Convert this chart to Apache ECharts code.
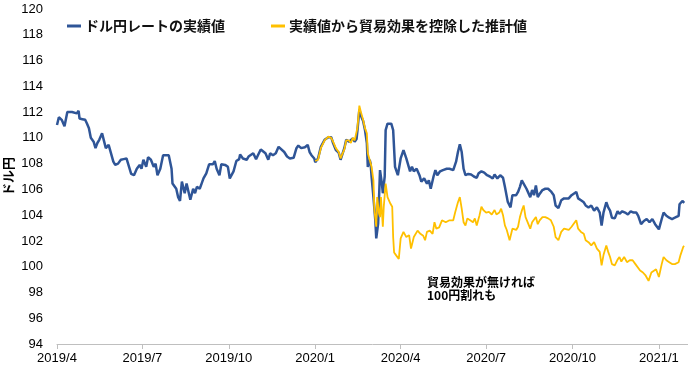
<!DOCTYPE html>
<html><head><meta charset="utf-8">
<script src="https://cdn.jsdelivr.net/npm/echarts@6/dist/echarts.min.js"></script>
<style>html,body{margin:0;padding:0;background:#fff}#c{width:688px;height:370px}</style>
</head><body><div id="c"></div>
<script>
// X-axis tick labels (quarter starts)
const xTickLabels = ['2019/4','2019/7','2019/10','2020/1','2020/4','2020/7','2020/10','2021/1'];
// Y-axis range
const yMin = 94, yMax = 120, yStep = 2;

// Series 1: ドル円レートの実績値
const actualDates = ['2019-04-01','2019-04-03','2019-04-06','2019-04-09','2019-04-12','2019-04-17','2019-04-22','2019-04-24','2019-04-25','2019-04-28','2019-05-01','2019-05-03','2019-05-05','2019-05-07','2019-05-10','2019-05-12','2019-05-14','2019-05-16','2019-05-19','2019-05-21','2019-05-23','2019-05-26','2019-05-28','2019-05-31','2019-06-02','2019-06-05','2019-06-08','2019-06-11','2019-06-14','2019-06-16','2019-06-19','2019-06-22','2019-06-25','2019-06-28','2019-06-30','2019-07-02','2019-07-05','2019-07-07','2019-07-10','2019-07-13','2019-07-15','2019-07-17','2019-07-20','2019-07-23','2019-07-29','2019-08-01','2019-08-02','2019-08-06','2019-08-08','2019-08-10','2019-08-12','2019-08-15','2019-08-17','2019-08-19','2019-08-21','2019-08-24','2019-08-26','2019-08-28','2019-08-31','2019-09-02','2019-09-04','2019-09-07','2019-09-10','2019-09-14','2019-09-16','2019-09-18','2019-09-21','2019-09-23','2019-09-27','2019-09-30','2019-10-02','2019-10-04','2019-10-06','2019-10-09','2019-10-12','2019-10-13','2019-10-16','2019-10-18','2019-10-20','2019-10-22','2019-10-24','2019-10-27','2019-10-30','2019-11-01','2019-11-04','2019-11-06','2019-11-09','2019-11-12','2019-11-14','2019-11-17','2019-11-20','2019-11-23','2019-11-25','2019-11-29','2019-12-02','2019-12-05','2019-12-09','2019-12-12','2019-12-14','2019-12-17','2019-12-21','2019-12-24','2019-12-26','2019-12-28','2019-12-31','2020-01-01',
'2020-01-04','2020-01-07','2020-01-11','2020-01-15','2020-01-18','2020-01-20','2020-01-23','2020-01-26','2020-01-28','2020-01-30','2020-02-01','2020-02-03','2020-02-06','2020-02-08','2020-02-10','2020-02-12','2020-02-14','2020-02-15','2020-02-17','2020-02-19','2020-02-21','2020-02-23','2020-02-25','2020-02-26','2020-02-28','2020-02-29','2020-03-01','2020-03-03','2020-03-05','2020-03-06','2020-03-08','2020-03-10','2020-03-12','2020-03-13','2020-03-15','2020-03-16','2020-03-18','2020-03-22','2020-03-24','2020-03-26','2020-03-29','2020-04-01','2020-04-04','2020-04-07','2020-04-09','2020-04-11','2020-04-13','2020-04-15','2020-04-18','2020-04-21','2020-04-23','2020-04-26','2020-04-29','2020-05-01','2020-05-03','2020-05-06','2020-05-08','2020-05-10','2020-05-13','2020-05-16','2020-05-20','2020-05-23','2020-05-25','2020-05-27','2020-05-30','2020-06-01','2020-06-03','2020-06-05','2020-06-07','2020-06-09','2020-06-12','2020-06-15','2020-06-18','2020-06-21','2020-06-23','2020-06-26','2020-06-29','2020-07-02','2020-07-05','2020-07-08','2020-07-10','2020-07-13','2020-07-16','2020-07-19','2020-07-21','2020-07-24','2020-07-27','2020-07-29','2020-07-31','2020-08-02','2020-08-04','2020-08-06','2020-08-08','2020-08-10','2020-08-13','2020-08-15','2020-08-17','2020-08-19','2020-08-21','2020-08-23','2020-08-25','2020-08-27','2020-08-30','2020-09-02','2020-09-05','2020-09-08','2020-09-11','2020-09-13','2020-09-16','2020-09-19','2020-09-22','2020-09-24','2020-09-27','2020-09-30','2020-10-02','2020-10-05','2020-10-07','2020-10-10','2020-10-13','2020-10-15','2020-10-18','2020-10-21','2020-10-24','2020-10-27','2020-10-30','2020-11-01','2020-11-03','2020-11-06','2020-11-08','2020-11-10','2020-11-12','2020-11-15','2020-11-18','2020-11-20','2020-11-23','2020-11-26','2020-11-29','2020-12-02','2020-12-05','2020-12-08','2020-12-10','2020-12-13','2020-12-16','2020-12-19','2020-12-22','2020-12-25','2020-12-28','2021-01-01','2021-01-04','2021-01-06','2021-01-09','2021-01-12','2021-01-15','2021-01-18','2021-01-20','2021-01-22','2021-01-23','2021-01-26','2021-01-28'];
const actualValues = [111.0,111.6,111.4,110.9,112.0,112.0,111.9,112.1,111.5,111.45,111.4,111.1,110.75,110.0,109.7,109.2,109.6,109.85,110.35,110.4,109.2,109.45,109.3,108.15,107.9,108.0,108.3,108.35,108.4,108.3,107.2,107.1,107.6,107.9,107.6,108.3,107.75,108.5,108.3,107.75,108.0,107.1,107.6,108.65,108.65,107.6,106.45,106.05,105.4,105.1,106.6,105.7,106.45,106.3,105.2,106.05,105.7,106.2,106.05,106.45,106.85,107.25,107.95,107.95,108.2,107.6,107.1,107.95,107.9,107.75,106.85,107.0,107.4,108.2,108.35,108.7,108.4,108.55,108.3,108.55,108.65,108.8,108.35,108.65,109.1,108.98,108.8,108.3,108.8,108.65,108.8,109.3,109.4,108.9,108.55,108.4,108.45,109.2,109.4,109.2,109.27,109.45,108.9,108.65,108.4,108.1,
108.4,109.3,109.85,110.05,110.05,109.6,109.05,108.85,108.3,108.4,109.2,109.85,109.7,109.7,109.95,109.7,109.9,110.6,112.2,111.65,111.3,110.6,109.6,107.75,108.3,108.0,107.0,105.4,103.6,102.2,103.35,107.5,106.45,105.7,107.0,110.6,111.1,111.1,110.6,107.75,107.1,108.4,109.05,108.4,107.9,107.4,107.75,107.4,107.6,107.1,106.6,106.85,106.45,106.7,106.05,107.0,107.5,107.1,107.4,107.5,107.6,107.6,107.75,107.5,108.15,108.9,109.5,108.9,107.6,107.1,107.2,107.15,107.0,106.9,107.25,107.4,107.3,107.1,107.0,106.85,107.15,106.85,107.1,106.9,106.2,105.05,104.6,105.55,105.65,105.55,105.8,106.2,106.7,106.85,106.05,106.2,105.4,105.95,105.55,106.3,105.4,105.65,105.95,106.05,106.05,105.85,105.55,104.75,104.55,105.15,105.3,105.4,105.3,105.55,105.4,105.8,105.3,105.15,105.0,104.75,104.6,104.75,104.35,104.6,104.2,103.2,104.2,105.0,104.6,104.35,103.8,103.75,104.3,104.1,104.3,104.2,104.05,104.3,104.2,104.2,103.95,103.3,103.55,103.7,103.45,103.7,103.3,102.9,103.7,104.2,103.95,103.8,103.7,103.8,103.7,103.95,104.85,105.1,104.95];

// Series 2: 実績値から貿易効果を控除した推計値
const estDates = ['2020-01-01','2020-01-04','2020-01-07','2020-01-11','2020-01-15','2020-01-18','2020-01-20','2020-01-23','2020-01-26','2020-01-28','2020-01-30','2020-02-01','2020-02-03','2020-02-06','2020-02-08','2020-02-10','2020-02-12','2020-02-14','2020-02-15','2020-02-17','2020-02-19','2020-02-21','2020-02-23','2020-02-25','2020-02-26','2020-02-28','2020-03-01','2020-03-03','2020-03-04','2020-03-06','2020-03-07','2020-03-09','2020-03-10','2020-03-11','2020-03-13','2020-03-14','2020-03-16','2020-03-18','2020-03-21','2020-03-23','2020-03-24','2020-03-25','2020-03-27','2020-03-30','2020-04-01','2020-04-04','2020-04-07','2020-04-10','2020-04-12','2020-04-15','2020-04-17','2020-04-19','2020-04-22','2020-04-25','2020-04-27','2020-04-29','2020-05-02','2020-05-05','2020-05-07','2020-05-09','2020-05-12','2020-05-15','2020-05-19','2020-05-23','2020-05-27','2020-05-29','2020-06-01','2020-06-03','2020-06-05','2020-06-07','2020-06-09','2020-06-11','2020-06-14','2020-06-17','2020-06-19','2020-06-21','2020-06-24','2020-06-26','2020-06-28','2020-07-01','2020-07-04','2020-07-07','2020-07-10','2020-07-12','2020-07-15','2020-07-17','2020-07-19','2020-07-21','2020-07-23','2020-07-26','2020-07-29','2020-07-31','2020-08-02','2020-08-04','2020-08-06','2020-08-08','2020-08-10','2020-08-12','2020-08-14','2020-08-17','2020-08-19','2020-08-23','2020-08-25','2020-08-27','2020-08-30','2020-09-02','2020-09-05','2020-09-08','2020-09-11','2020-09-13','2020-09-16','2020-09-19','2020-09-22','2020-09-24','2020-09-27','2020-09-30','2020-10-02','2020-10-05','2020-10-07','2020-10-10','2020-10-13','2020-10-15','2020-10-18','2020-10-21','2020-10-24','2020-10-27','2020-10-30','2020-11-01','2020-11-03','2020-11-06','2020-11-08','2020-11-10','2020-11-12','2020-11-15','2020-11-18','2020-11-20','2020-11-22','2020-11-25','2020-11-28','2020-12-01','2020-12-04','2020-12-07','2020-12-09','2020-12-12','2020-12-15','2020-12-18','2020-12-21','2020-12-24','2020-12-26','2020-12-29','2021-01-01','2021-01-04','2021-01-06','2021-01-09','2021-01-12','2021-01-15','2021-01-18','2021-01-20','2021-01-22','2021-01-24','2021-01-27','2021-01-28'];
const estValues = [108.2,108.3,109.2,109.8,110.1,110.0,109.7,109.2,108.9,108.4,108.5,109.1,109.8,109.8,109.6,110.0,109.8,109.9,110.8,112.5,111.9,111.4,110.75,110.35,108.8,108.65,107.75,106.7,104.4,103.1,105.4,104.1,103.85,105.4,103.1,104.65,106.45,105.4,104.9,104.65,102.3,101.1,100.9,100.6,102.2,102.7,102.3,102.45,101.4,102.3,102.2,102.8,102.55,102.4,102.05,102.7,102.8,102.55,103.45,102.95,103.05,103.6,103.45,103.6,103.6,104.2,105.0,105.4,104.5,103.45,103.2,103.75,103.6,103.45,103.75,103.2,104.0,104.65,104.4,104.2,104.25,104.05,104.4,104.05,104.2,104.5,104.0,103.2,102.85,102.05,102.95,103.1,102.85,103.1,103.85,104.35,104.75,103.85,103.75,102.95,103.45,103.85,103.3,103.6,103.85,103.85,103.75,103.6,103.1,102.3,102.05,102.7,102.95,103.0,102.85,103.1,103.1,103.6,102.95,102.7,102.55,102.05,101.9,101.65,101.9,101.4,101.15,100.1,100.9,101.65,101.15,100.75,100.2,100.1,100.55,100.75,100.4,100.75,100.35,100.5,100.5,100.2,100.2,99.7,99.55,99.3,98.9,99.55,99.55,99.8,99.2,100.2,100.75,100.5,100.35,100.2,100.2,100.1,100.35,100.9,101.55,101.6];

const seriesNames = ['ドル円レートの実績値','実績値から貿易効果を控除した推計値'];
const noteLines = ['貿易効果が無ければ','100円割れも'];

function toTs(s){ const p = s.split(/[-\/]/).map(Number); return new Date(p[0], p[1]-1, p[2] || 1).getTime(); }
const quarterTicks = xTickLabels.map(toTs);
const actualData = actualDates.map((d,i)=>[toTs(d), actualValues[i]]);
const estData = estDates.map((d,i)=>[toTs(d), estValues[i]]);

const jp = '"Noto Sans CJK JP", sans-serif';
const lat = '"Liberation Sans", Arial, sans-serif';

const chart = echarts.init(document.getElementById('c'), null, {renderer:'canvas'});
chart.setOption({
  animation: false,
  backgroundColor: '#ffffff',
  grid: {left: 57, right: 0, top: 9, bottom: 26, containLabel: false, outerBoundsMode: 'none', show: false},
  legend: {
    left: 62, top: 14, itemGap: 46, itemWidth: 14, itemHeight: 3, icon: 'rect',
    textStyle: {fontFamily: jp, fontSize: 14, fontWeight: 'bold', color: '#111', padding: [0,0,0,-1]},
    data: seriesNames
  },
  xAxis: {
    type: 'value',
    min: toTs('2019-04-01'), max: toTs('2021-02-01'),
    axisLine: {show: true, lineStyle: {color: '#bfbfbf', width: 1}},
    axisTick: {show: true, customValues: quarterTicks, length: 5, lineStyle: {color: '#bfbfbf'}},
    axisLabel: {
      customValues: quarterTicks, color: '#000', fontSize: 13, fontFamily: lat, margin: 8,
      formatter: function(v){ const d = new Date(v); return d.getFullYear() + '/' + (d.getMonth()+1); }
    },
    splitLine: {show: false}, minorSplitLine: {show: false}
  },
  yAxis: {
    type: 'value', min: yMin, max: yMax, interval: yStep,
    name: 'ドル円', nameLocation: 'middle', nameGap: 42, nameMoveOverlap: false,
    nameTextStyle: {fontFamily: jp, fontSize: 13, fontWeight: 'bold', color: '#000'},
    axisLine: {show: false, onZero: false}, axisTick: {show: false},
    axisLabel: {color: '#000', fontSize: 13, fontFamily: lat, margin: 14},
    splitLine: {show: false}, minorSplitLine: {show: false}
  },
  graphic: [
    {type: 'text', left: 427, top: 276, style: {text: noteLines[0], fontFamily: jp, fontSize: 12, fontWeight: 'bold', fill: '#000'}},
    {type: 'text', left: 427, top: 289, style: {text: noteLines[1], fontFamily: jp, fontSize: 12, fontWeight: 'bold', fill: '#000'}}
  ],
  series: [
    {name: seriesNames[0], type: 'line', data: actualData, showSymbol: false, symbol: 'none',
     lineStyle: {color: '#2F5597', width: 2.5}, itemStyle: {color: '#2F5597'}},
    {name: seriesNames[1], type: 'line', data: estData, showSymbol: false, symbol: 'none',
     lineStyle: {color: '#FFC000', width: 1.8}, itemStyle: {color: '#FFC000'}}
  ]
});
</script></body></html>
